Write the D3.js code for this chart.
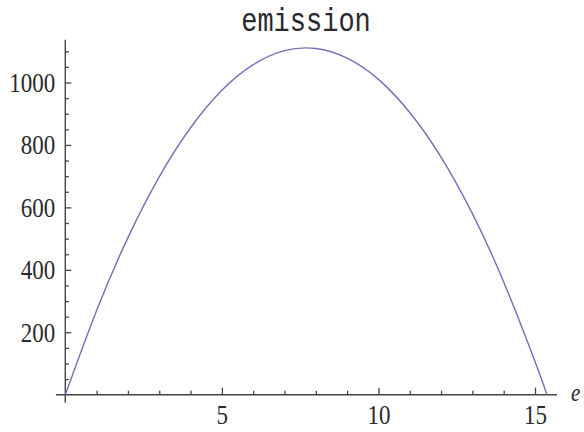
<!DOCTYPE html>
<html>
<head>
<meta charset="utf-8">
<script src="https://cdn.jsdelivr.net/npm/d3@7"></script>
<style>
  html, body { margin: 0; padding: 0; background: #fff; }
  svg { display: block; }
  .lbl { font-family: "Liberation Serif", "Times New Roman", serif; fill: #2a2a2a; }
</style>
</head>
<body>
<div id="chart"></div>
<script>
const title = "emission";
const xName = "e";

// curve samples
const eVals    = [0, 1, 2, 3, 4, 5, 6, 7, 8, 9, 10, 11, 12, 13, 14, 15, 15.38];
const emission = [0, 270, 503, 698, 855, 975, 1057, 1102, 1109, 1078, 1010, 904, 761, 580, 361, 106, 0];

const xMajor = [5, 10, 15];
const xMinor = [1, 2, 3, 4, 6, 7, 8, 9, 11, 12, 13, 14];
const yMajor = [200, 400, 600, 800, 1000];
const yMinor = [50, 100, 150, 250, 300, 350, 450, 500, 550, 650, 700, 750, 850, 900, 950, 1050, 1100];

const width = 584, height = 432;
const axisCol = "#444";
const stretch = 1.22;

const svg = d3.select("#chart").append("svg")
  .attr("width", width)
  .attr("height", height);

const x = d3.scaleLinear().domain([0, 15]).range([65.3, 535]);
const y = d3.scaleLinear().domain([0, 1000]).range([394.7, 82.5]);

// minor ticks
svg.append("g")
  .attr("transform", `translate(0,${y(0)})`)
  .call(d3.axisBottom(x).tickValues(xMinor).tickSizeInner(-4).tickSizeOuter(0).tickFormat(""))
  .call(g => g.select(".domain").remove());
svg.append("g")
  .attr("transform", `translate(${x(0)},0)`)
  .call(d3.axisLeft(y).tickValues(yMinor).tickSizeInner(-3.5).tickSizeOuter(0).tickFormat(""))
  .call(g => g.select(".domain").remove());

// major ticks with labels
const xAx = svg.append("g")
  .attr("transform", `translate(0,${y(0)})`)
  .call(d3.axisBottom(x).tickValues(xMajor).tickSizeInner(-7).tickSizeOuter(0).tickPadding(9).tickFormat(d3.format("d")))
  .call(g => g.select(".domain").remove());
xAx.selectAll("text")
  .attr("class", "lbl")
  .attr("font-size", 23)
  .attr("y", 9 / stretch)
  .attr("transform", `scale(1,${stretch})`);

const yAx = svg.append("g")
  .attr("transform", `translate(${x(0)},0)`)
  .call(d3.axisLeft(y).tickValues(yMajor).tickSizeInner(-6).tickSizeOuter(0).tickPadding(10).tickFormat(d3.format("d")))
  .call(g => g.select(".domain").remove());
yAx.selectAll("text")
  .attr("class", "lbl")
  .attr("font-size", 23)
  .attr("transform", `scale(1,${stretch})`);

svg.selectAll(".tick line").attr("stroke", axisCol).attr("stroke-width", 1.3);

// axis lines
svg.append("line")
  .attr("x1", x(-0.3)).attr("x2", x(15.7))
  .attr("y1", y(0)).attr("y2", y(0))
  .attr("stroke", axisCol).attr("stroke-width", 1.4);
svg.append("line")
  .attr("x1", x(0)).attr("x2", x(0))
  .attr("y1", y(-26)).attr("y2", y(1137))
  .attr("stroke", axisCol).attr("stroke-width", 1.4);

// curve
const line = d3.line()
  .x((d, i) => x(eVals[i]))
  .y(d => y(d))
  .curve(d3.curveNatural);

svg.append("path")
  .datum(emission)
  .attr("d", line)
  .attr("fill", "none")
  .attr("stroke", "#7070ba")
  .attr("stroke-width", 1.4);

// title
svg.append("text")
  .attr("transform", `translate(306,31) scale(1,${stretch})`)
  .attr("text-anchor", "middle")
  .attr("font-family", "'Courier New', 'Liberation Mono', monospace")
  .attr("font-size", 27)
  .attr("fill", "#2a2a2a")
  .text(title);

// axis name
svg.append("text")
  .attr("class", "lbl")
  .attr("transform", `translate(571,401) scale(1,${stretch})`)
  .attr("font-size", 21)
  .attr("font-style", "italic")
  .text(xName);
</script>
</body>
</html>
